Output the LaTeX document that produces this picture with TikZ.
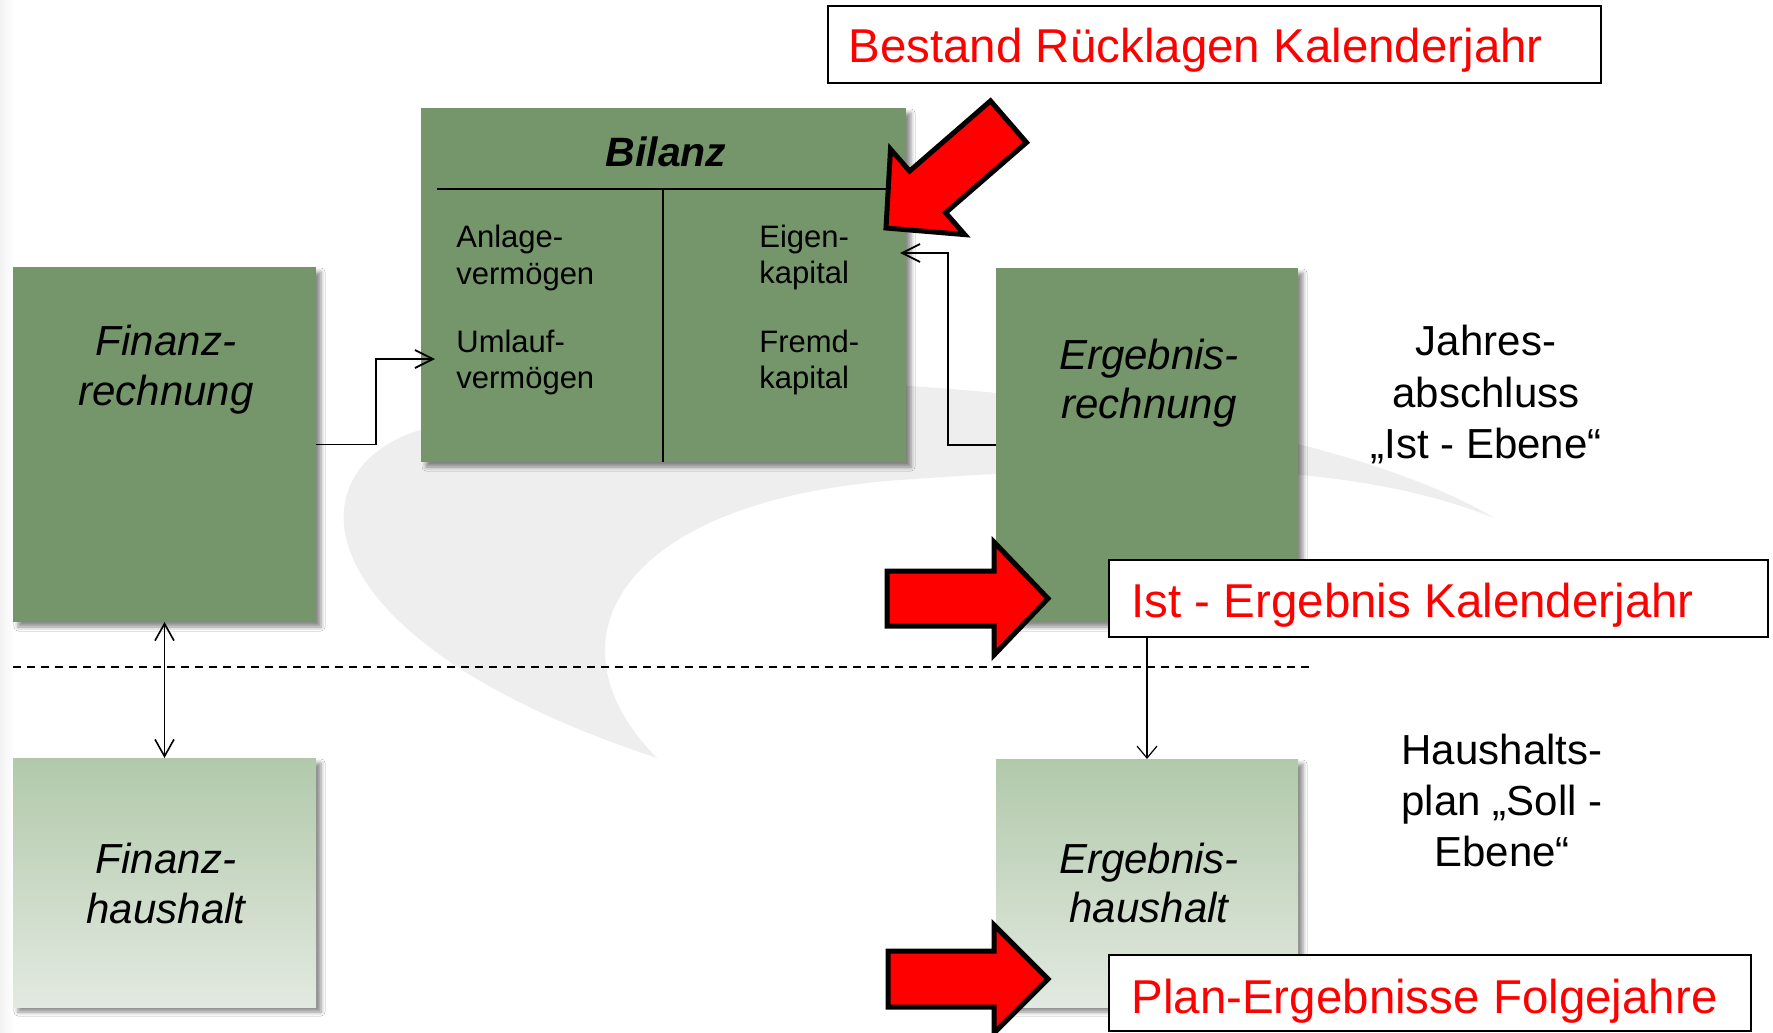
\documentclass[tikz,border=0pt]{standalone}
\usepackage{fontspec}
\setmainfont{Liberation Sans}
\usetikzlibrary{arrows.meta,shadows.blur}
\definecolor{grn}{HTML}{75966A}
\definecolor{lgtop}{HTML}{B1C9AA}
\definecolor{lgbot}{HTML}{E3E9E1}
\definecolor{wm}{HTML}{EEEEEE}
\begin{document}
\begin{tikzpicture}[x=0.5pt,y=-0.5pt,
  gbox/.style={draw=none, fill=grn, inner sep=0, outer sep=0, anchor=north west,
    blur shadow={shadow xshift=2.5pt, shadow yshift=-2.5pt, shadow blur radius=2pt, shadow opacity=45}},
  lbox/.style={gbox, top color=lgtop, bottom color=lgbot},
  redbox/.style={draw=black, line width=1pt, fill=white, inner sep=0, outer sep=0, anchor=north west},
  redtxt/.style={text=red, font=\fontsize{23.75}{28}\selectfont, anchor=base west, inner sep=0},
  itxt/.style={font=\fontsize{21}{25}\selectfont\itshape, anchor=base, inner sep=0},
  rtxt/.style={font=\fontsize{21}{25}\selectfont, anchor=base, inner sep=0},
  btxt/.style={font=\fontsize{15.5}{18}\selectfont, anchor=base west, inner sep=0},
  conn/.style={draw=black, line width=0.9pt, -{Straight Barb[length=9pt,width=9pt]}},
  dconn/.style={draw=black, line width=0.8pt, {Straight Barb[length=8.5pt,width=9.5pt]}-{Straight Barb[length=8.5pt,width=9.5pt]}},
  tconn/.style={draw=black, line width=0.6pt, -{Straight Barb[length=6pt,width=10pt]}},
  redarrow/.style={fill=red, draw=black, line width=2.5pt, line join=miter},
  rule/.style={draw=black, line width=0.9pt}]
\useasboundingbox (0,0) rectangle (1773,1033);
\fill[white] (0,0) rectangle (1773,1033);
\shade[left color=black!5, right color=white] (0,0) rectangle (14,1033);
% watermark swoosh
\fill[wm] (1494,518) .. controls (1300,400) and (700,330) .. (420,430)
  .. controls (290,470) and (300,640) .. (657,758)
  .. controls (540,640) and (620,500) .. (900,480)
  .. controls (1150,462) and (1350,460) .. (1494,518) -- cycle;
% boxes
\node[gbox, minimum width=151.5pt, minimum height=177.5pt] (fr) at (13,267) {};
\node[lbox, minimum width=151.5pt, minimum height=124.5pt] (fh) at (13,758) {};
\node[gbox, minimum width=242.5pt, minimum height=177pt] (bil) at (421,108) {};
\node[gbox, minimum width=151pt, minimum height=177pt] (er) at (996,268) {};
\node[lbox, minimum width=151pt, minimum height=124pt] (eh) at (996,759) {};
% Bilanz inner rules
\draw[rule] (437,189) -- (906,189);
\draw[rule] (663,189) -- (663,462);
% texts in boxes
\node[itxt] (fr1) at (166,355) {Finanz-};
\node[itxt] (fr2) at (166,405) {rechnung};
\node[itxt] (fh1) at (166,873) {Finanz-};
\node[itxt] (fh2) at (166,923) {haushalt};
\node[itxt] (er1) at (1149,369) {Ergebnis-};
\node[itxt] (er2) at (1149,418) {rechnung};
\node[itxt] (eh1) at (1149,873) {Ergebnis-};
\node[itxt] (eh2) at (1149,922) {haushalt};
\node[font=\fontsize{20.5}{24}\selectfont\bfseries\itshape, anchor=base, inner sep=0] (bt) at (666,166) {Bilanz};
\node[btxt] (b1) at (456,247) {Anlage-};
\node[btxt] (b2) at (456,284) {vermögen};
\node[btxt] (b3) at (456,352) {Umlauf-};
\node[btxt] (b4) at (456,388) {vermögen};
\node[btxt] (b5) at (759,247) {Eigen-};
\node[btxt] (b6) at (759,283) {kapital};
\node[btxt] (b7) at (759,352) {Fremd-};
\node[btxt] (b8) at (759,388) {kapital};
% right-hand labels
\node[rtxt] (j1) at (1486,355) {Jahres-};
\node[rtxt] (j2) at (1486,407) {abschluss};
\node[rtxt] (j3) at (1486,458) {„Ist - Ebene“};
\node[rtxt] (h1) at (1502,764) {Haushalts-};
\node[rtxt] (h2) at (1502,815) {plan „Soll -};
\node[rtxt] (h3) at (1502,866) {Ebene“};
% dashed separator
\coordinate (dl) at (13,667);
\coordinate (dr) at (1310,667);
\draw[black, line width=0.8pt, dash pattern=on 4pt off 3pt] (dl) -- (dr);
% connectors
\coordinate (bilUA) at (435,359);
\coordinate (bilEK) at (900,253);
\draw[conn] (fr.east) -| (376,359) -- (bilUA);
\draw[conn] (er.west) -| (948,253) -- (bilEK);
\draw[dconn] (fr.south) -- (fh.north);
% red text boxes
\node[redbox, minimum width=386.5pt, minimum height=38.5pt] (bestand) at (828,6) {};
\node[redbox, minimum width=329.5pt, minimum height=38.5pt] (ist) at (1109,560) {};
\node[redbox, minimum width=321pt, minimum height=38pt] (plan) at (1109,955) {};
\draw[tconn] (ist.south -| eh.north) -- (eh.north);
\node[redtxt] (bestandt) at (848,62) {Bestand Rücklagen Kalenderjahr};
\node[redtxt] (istt) at (1131,617) {Ist - Ergebnis Kalenderjahr};
\node[redtxt] (plant) at (1131,1013) {Plan-Ergebnisse Folgejahre};
% red arrows
\draw[redarrow] (990.5,100.9) -- (1026.5,142.5) -- (945.6,212.7) -- (964.7,234.6)
  -- (886,228) -- (890.5,149.2) -- (909.6,171.1) -- cycle;
\draw[redarrow] (887,571) -- (994,571) -- (994,542) -- (1048,598.5) -- (994,655)
  -- (994,626) -- (887,626) -- cycle;
\draw[redarrow] (888,951) -- (994,951) -- (994,925) -- (1048,979) -- (994,1033)
  -- (994,1007) -- (888,1007) -- cycle;
\end{tikzpicture}
\end{document}
